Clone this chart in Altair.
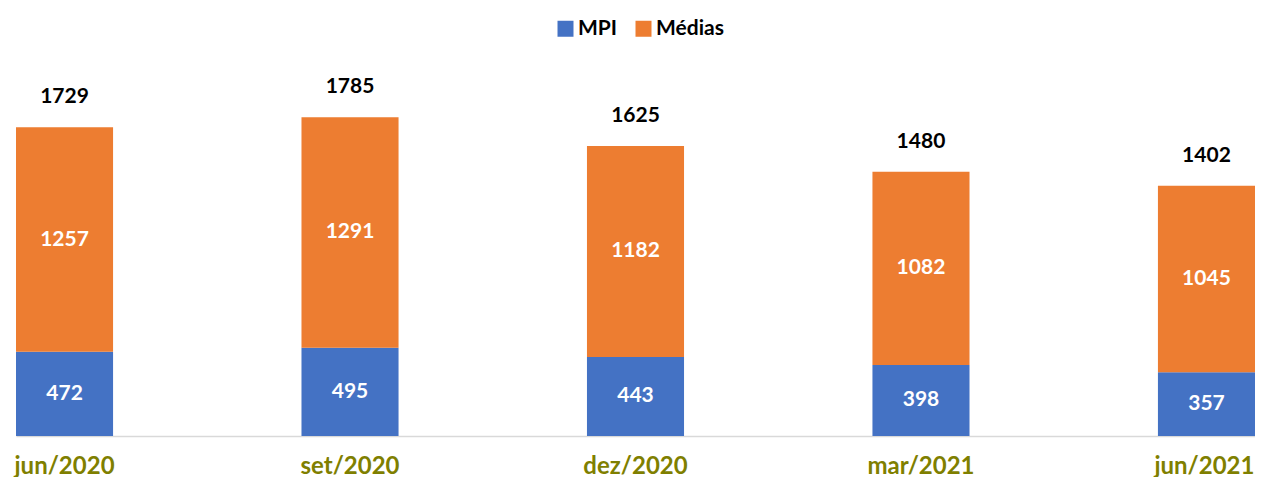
import altair as alt
import pandas as pd

categories = ["jun/2020", "set/2020", "dez/2020", "mar/2021", "jun/2021"]
mpi = [472, 495, 443, 398, 357]
medias = [1257, 1291, 1182, 1082, 1045]
totals = [1729, 1785, 1625, 1480, 1402]
series = ["MPI", "Médias"]
colors = ["#4472C4", "#ED7D31"]

rows = []
for c, a, b in zip(categories, mpi, medias):
    rows.append({"cat": c, "serie": series[0], "valor": a, "ordem": 0})
    rows.append({"cat": c, "serie": series[1], "valor": b, "ordem": 1})
df = pd.DataFrame(rows)
tot = pd.DataFrame({"cat": categories, "total": totals})

FONT = "Lato"
last_label = "datum.value === '" + categories[-1] + "'"

x = alt.X(
    "cat:N",
    sort=categories,
    scale=alt.Scale(paddingInner=0.66, paddingOuter=0),
    axis=alt.Axis(
        title=None,
        labelAngle=0,
        labelFont=FONT,
        labelFontSize=24,
        labelFontWeight="bold",
        labelColor="#7F7F00",
        labelAlign={"condition": {"test": last_label, "value": "right"}, "value": "center"},
        labelOffset={"condition": {"test": last_label, "value": 48}, "value": 0},
        ticks=False,
        domainColor="#D9D9D9",
        domainWidth=1.5,
        labelPadding=18,
    ),
)
yscale = alt.Scale(domain=[0, 2000])

base = alt.Chart(df).transform_stack(
    stack="valor", groupby=["cat"], as_=["y0", "y1"], sort=[alt.SortField("ordem")]
).transform_calculate(mid="(datum.y0 + datum.y1) / 2")

bars = base.mark_bar().encode(
    x=x,
    y=alt.Y("y0:Q", scale=yscale, axis=None),
    y2="y1:Q",
    color=alt.Color(
        "serie:N",
        scale=alt.Scale(domain=series, range=colors),
        legend=alt.Legend(
            title=None,
            orient="none",
            legendX=539,
            legendY=-61,
            direction="horizontal",
            symbolType="square",
            symbolSize=256,
            symbolStrokeWidth=0,
            labelFont=FONT,
            labelFontSize=21,
            labelFontWeight="bold",
            labelColor="#000000",
            columnPadding=15,
            labelOffset=2,
        ),
    ),
)

inner = base.mark_text(
    font=FONT, fontSize=21, fontWeight="bold", color="white", baseline="middle"
).encode(
    x=x,
    y=alt.Y("mid:Q", scale=yscale, axis=None),
    text="valor:Q",
)

top = alt.Chart(tot).mark_text(
    font=FONT, fontSize=21, fontWeight="bold", color="black", baseline="middle", dy=-30
).encode(
    x=x,
    y=alt.Y("total:Q", scale=yscale, axis=None),
    text="total:Q",
)

chart = (
    alt.layer(bars, inner, top)
    .properties(
        width=1239,
        height=357,
        autosize=alt.AutoSizeParams(type="none"),
        padding={"left": 8, "top": 71, "right": 0, "bottom": 41},
        background="white",
    )
    .configure_view(stroke=None)
)

chart.save("out.html", embed_options={"renderer": "svg", "actions": False})
